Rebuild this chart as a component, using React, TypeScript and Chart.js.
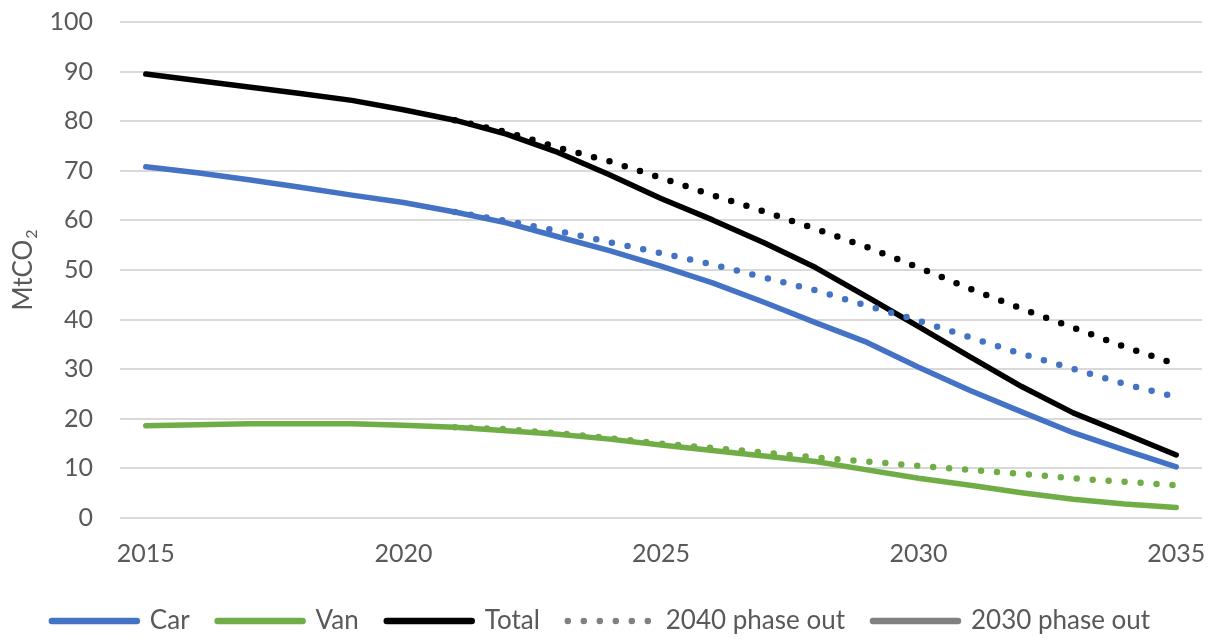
import React, { useEffect, useRef } from "react";
import { Chart, registerables } from "chart.js";

Chart.register(...registerables);

const years = [
  "2015", "2016", "2017", "2018", "2019", "2020", "2021", "2022", "2023", "2024",
  "2025", "2026", "2027", "2028", "2029", "2030", "2031", "2032", "2033", "2034", "2035",
];

// 2030 phase out (solid)
const car2030 = [70.8, 69.6, 68.2, 66.7, 65.1, 63.6, 61.7, 59.5, 56.7, 53.9, 50.8, 47.4, 43.5, 39.4, 35.4, 30.4, 25.7, 21.4, 17.2, 13.7, 10.3];
const van2030 = [18.6, 18.8, 19.0, 19.0, 19.0, 18.7, 18.3, 17.6, 16.9, 15.9, 14.7, 13.6, 12.5, 11.4, 9.7, 8.0, 6.6, 5.1, 3.8, 2.8, 2.1];
const total2030 = [89.5, 88.2, 86.9, 85.6, 84.2, 82.3, 80.2, 77.4, 73.7, 69.2, 64.4, 60.1, 55.5, 50.5, 44.6, 38.6, 32.5, 26.5, 21.2, 17.0, 12.7];

// 2040 phase out (dotted)
const car2040 = [null, null, null, null, null, null, 61.7, 59.9, 57.9, 55.6, 53.4, 51.1, 48.5, 45.9, 42.8, 39.8, 36.4, 33.1, 30.1, 27.0, 24.4];
const van2040 = [null, null, null, null, null, null, 18.3, 17.9, 17.1, 16.1, 15.0, 14.1, 13.2, 12.2, 11.4, 10.5, 9.7, 8.9, 8.0, 7.3, 6.6];
const total2040 = [null, null, null, null, null, null, 80.2, 77.8, 74.7, 71.9, 68.6, 65.1, 61.8, 58.3, 54.6, 50.5, 46.2, 42.2, 38.4, 34.5, 31.0];

const yTicks = [0, 10, 20, 30, 40, 50, 60, 70, 80, 90, 100];
const yTitleMain = "MtCO";
const yTitleSub = "2";

const BLUE = "#4472C4";
const GREEN = "#70AD47";
const BLACK = "#000000";
const GREY = "#808080";
const TEXT = "#595959";

const yTitlePlugin = {
  id: "yTitleSub",
  afterDraw(chart: any) {
    const { ctx, chartArea } = chart;
    const midY = (chartArea.top + chartArea.bottom) / 2;
    ctx.save();
    ctx.fillStyle = TEXT;
    ctx.textBaseline = "alphabetic";
    ctx.textAlign = "left";
    ctx.font = "26px Lato";
    const w1 = ctx.measureText(yTitleMain).width;
    ctx.font = "16px Lato";
    const w2 = ctx.measureText(yTitleSub).width;
    const total = w1 + 1 + w2;
    ctx.translate(32, midY);
    ctx.rotate(-Math.PI / 2);
    ctx.font = "26px Lato";
    ctx.fillText(yTitleMain, -total / 2, 0);
    ctx.font = "16px Lato";
    ctx.fillText(yTitleSub, -total / 2 + w1 + 1, 5);
    ctx.restore();
  },
};

export default function App() {
  const ref = useRef<HTMLCanvasElement>(null);

  useEffect(() => {
    document.body.style.margin = "0";
    const canvas = ref.current;
    if (!canvas) return;
    const tickFont = { family: "Lato", size: 25 };
    const legendFont = { family: "Lato", size: 26 };

    const solid = (label: string, data: (number | null)[], color: string) => ({
      label,
      data,
      borderColor: color,
      backgroundColor: color,
      borderWidth: 5.5,
      pointRadius: 0,
      tension: 0,
      borderCapStyle: "round" as const,
      borderJoinStyle: "round" as const,
      fill: false,
      order: 1,
    });
    const dotted = (label: string, data: (number | null)[], color: string) => ({
      label,
      data,
      borderColor: color,
      backgroundColor: color,
      borderWidth: 6.5,
      borderDash: [0, 16],
      pointRadius: 0,
      tension: 0,
      borderCapStyle: "round" as const,
      borderJoinStyle: "round" as const,
      fill: false,
      spanGaps: false,
      order: 0,
    });

    const legendItem = (text: string, color: string, dash: number[]) => ({
      text,
      strokeStyle: color,
      fillStyle: "rgba(0,0,0,0)",
      fontColor: TEXT,
      lineWidth: 6.5,
      lineCap: "round",
      lineDash: dash,
      pointStyle: "line",
      hidden: false,
    });

    const chart = new Chart(canvas, {
      type: "line",
      data: {
        labels: years,
        datasets: [
          solid("Car", car2030, BLUE),
          solid("Van", van2030, GREEN),
          solid("Total", total2030, BLACK),
          dotted("Car 2040", car2040, BLUE),
          dotted("Van 2040", van2040, GREEN),
          dotted("Total 2040", total2040, BLACK),
        ],
      },
      options: {
        responsive: false,
        animation: false,
        layout: { padding: { top: 22, right: 13, left: 0, bottom: 0 } },
        plugins: {
          tooltip: { enabled: false },
          legend: {
            position: "bottom",
            maxHeight: 59,
            labels: {
              usePointStyle: true,
              pointStyleWidth: 85,
              padding: 28,
              color: TEXT,
              font: legendFont,
              generateLabels: () =>
                [
                  legendItem("Car", BLUE, []),
                  legendItem("Van", GREEN, []),
                  legendItem("Total", BLACK, []),
                  legendItem("2040 phase out", GREY, [0, 16]),
                  legendItem("2030 phase out", GREY, []),
                ] as any,
            },
          },
        },
        scales: {
          x: {
            type: "category",
            offset: true,
            grid: { display: false },
            border: { display: false },
            ticks: {
              autoSkip: false,
              maxRotation: 0,
              padding: 13,
              color: TEXT,
              font: tickFont,
              callback: (_v: any, i: number) => (Number(years[i]) % 5 === 0 ? years[i] : ""),
            },
            afterFit: (scale: any) => {
              scale.height = 62;
              scale.paddingLeft = 0;
              scale.paddingRight = 0;
            },
          },
          y: {
            min: 0,
            max: 100,
            afterBuildTicks: (scale: any) => {
              scale.ticks = yTicks.map((v) => ({ value: v }));
            },
            grid: { color: "#D9D9D9", lineWidth: 2, drawTicks: false },
            border: { display: false },
            ticks: { padding: 27, color: TEXT, font: tickFont },
            title: { display: false },
            afterFit: (scale: any) => {
              scale.width = 120;
              scale.paddingTop = 0;
              scale.paddingBottom = 0;
            },
          },
        },
      },
      plugins: [yTitlePlugin],
    } as any);
    return () => chart.destroy();
  }, []);

  return <canvas ref={ref} width={1215} height={639} style={{ display: "block" }} />;
}
